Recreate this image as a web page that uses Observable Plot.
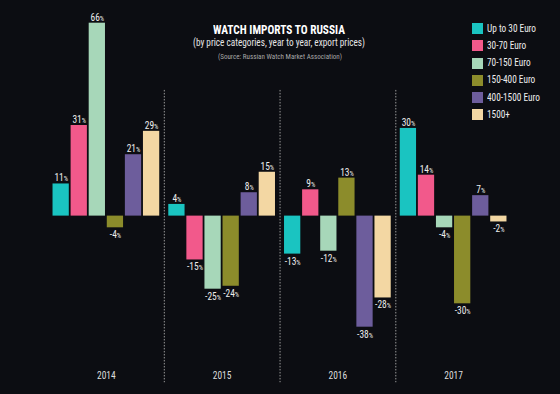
<!DOCTYPE html>
<html>
<head>
<meta charset="utf-8">
<script src="https://cdn.jsdelivr.net/npm/d3@7"></script>
<script src="https://cdn.jsdelivr.net/npm/@observablehq/plot@0.6"></script>
<style>
  html, body { margin: 0; padding: 0; background: #0c0d12; }
  #wrap { position: relative; width: 560px; height: 394px; background: #0c0d12; overflow: hidden;
    font-family: "Roboto Condensed", Roboto, "Liberation Sans", sans-serif; color: #eee; }
  #chart { position: absolute; left: 0; top: 0; }
  .line { position: absolute; white-space: nowrap; transform-origin: 0 50%; }
  #t1 { font-weight: bold; font-size: 12.5px; color: #fff; top: 22px; }
  #t2 { font-size: 10px; color: #e6e6e6; top: 37px; }
  #t3 { font-size: 6.5px; color: #a8a8a8; top: 53px; }
  #legend { position: absolute; left: 472px; top: 22px; }
  .row { position: relative; height: 17.3px; }
  .sw { position: absolute; left: 0; top: 1px; width: 11px; height: 11px; }
  .lab { position: absolute; left: 15px; top: -0.5px; font-size: 11px; color: #eee; white-space: nowrap; transform-origin: 0 50%; }
</style>
</head>
<body>
<div id="wrap">
  <div id="chart"></div>
  <div id="t1" class="line">WATCH IMPORTS TO RUSSIA</div>
  <div id="t2" class="line">(by price categories, year to year, export prices)</div>
  <div id="t3" class="line">(Source: Russian Watch Market Association)</div>
  <div id="legend"></div>
</div>
<script>
const years = ["2014", "2015", "2016", "2017"];
const categories = ["Up to 30 Euro", "30-70 Euro", "70-150 Euro", "150-400 Euro", "400-1500 Euro", "1500+"];
const colors = ["#1ac4c1", "#f2598b", "#a7d7b9", "#8c8c2b", "#6d5d9c", "#f3d7a3"];
const v2014 = [11, 31, 66, -4, 21, 29];
const v2015 = [4, -15, -25, -24, 8, 15];
const v2016 = [-13, 9, -12, 13, -38, -28];
const v2017 = [30, 14, -4, -30, 7, -2];
const seriesByYear = [v2014, v2015, v2016, v2017];

const data = [];
years.forEach((yr, i) => categories.forEach((c, j) => data.push({year: yr, cat: c, value: seriesByYear[i][j]})));

const font = '"Roboto Condensed", Roboto, "Liberation Sans", sans-serif';

const chart = Plot.plot({
  width: 560,
  height: 394,
  marginLeft: 48,
  marginRight: 49,
  marginTop: 11,
  marginBottom: 3,
  style: {background: "transparent", fontFamily: font, color: "#eee"},
  fx: {domain: years, paddingInner: 0, paddingOuter: 0, round: false, axis: null},
  x: {domain: categories, paddingInner: 0.1, paddingOuter: 0.25, round: false, axis: null},
  y: {domain: [-60, 70], axis: null},
  color: {domain: categories, range: colors},
  marks: [
    Plot.ruleX(years.slice(1), {fx: d => d, x: () => categories[0], y1: () => 43, y2: () => -57,
      stroke: "#9a9a9a", strokeWidth: 1, strokeDasharray: "1.5,1.5", dx: -12.6}),
    Plot.barY(data, {fx: "year", x: "cat", y: "value", fill: "cat"}),
    Plot.text(data.filter(d => d.value >= 0), {fx: "year", x: "cat", y: "value", text: d => d.value + "%",
      lineAnchor: "bottom", dy: -2.5, fill: "#eee", fontSize: 10.5}),
    Plot.text(data.filter(d => d.value < 0), {fx: "year", x: "cat", y: "value", text: d => d.value + "%",
      lineAnchor: "top", dy: 3, fill: "#eee", fontSize: 10.5}),
    Plot.text(years, {fx: d => d, text: d => d, frameAnchor: "bottom", dy: -13, fill: "#ddd", fontSize: 10.5})
  ]
});
document.getElementById("chart").appendChild(chart);

// condensed look: squeeze the SVG texts slightly around their anchor, smaller "%" sign
d3.select(chart).selectAll("text").each(function () {
  const t = this.getAttribute("transform") || "";
  this.setAttribute("transform", (t + " scale(0.9,1)").trim());
  const s = this.textContent;
  if (s.endsWith("%")) {
    const sel = d3.select(this);
    sel.text(s.slice(0, -1));
    sel.append("tspan").attr("font-size", 7.5).text("%");
  }
});

// fit title lines to the reference widths
function fitLine(id, targetWidth, centerX) {
  const el = document.getElementById(id);
  const w = el.getBoundingClientRect().width;
  const k = targetWidth / w;
  el.style.left = (centerX - targetWidth / 2) + "px";
  el.style.transform = `scaleX(${k})`;
}
fitLine("t1", 132, 279);
fitLine("t2", 172, 279);
fitLine("t3", 124, 280);

const legend = document.getElementById("legend");
categories.forEach((c, i) => {
  const row = document.createElement("div");
  row.className = "row";
  row.innerHTML = `<div class="sw" style="background:${colors[i]}"></div><div class="lab">${c}</div>`;
  legend.appendChild(row);
});
const labs = legend.querySelectorAll(".lab");
const kLeg = 49 / labs[0].getBoundingClientRect().width;
labs.forEach(l => l.style.transform = `scaleX(${kLeg})`);
</script>
</body>
</html>
